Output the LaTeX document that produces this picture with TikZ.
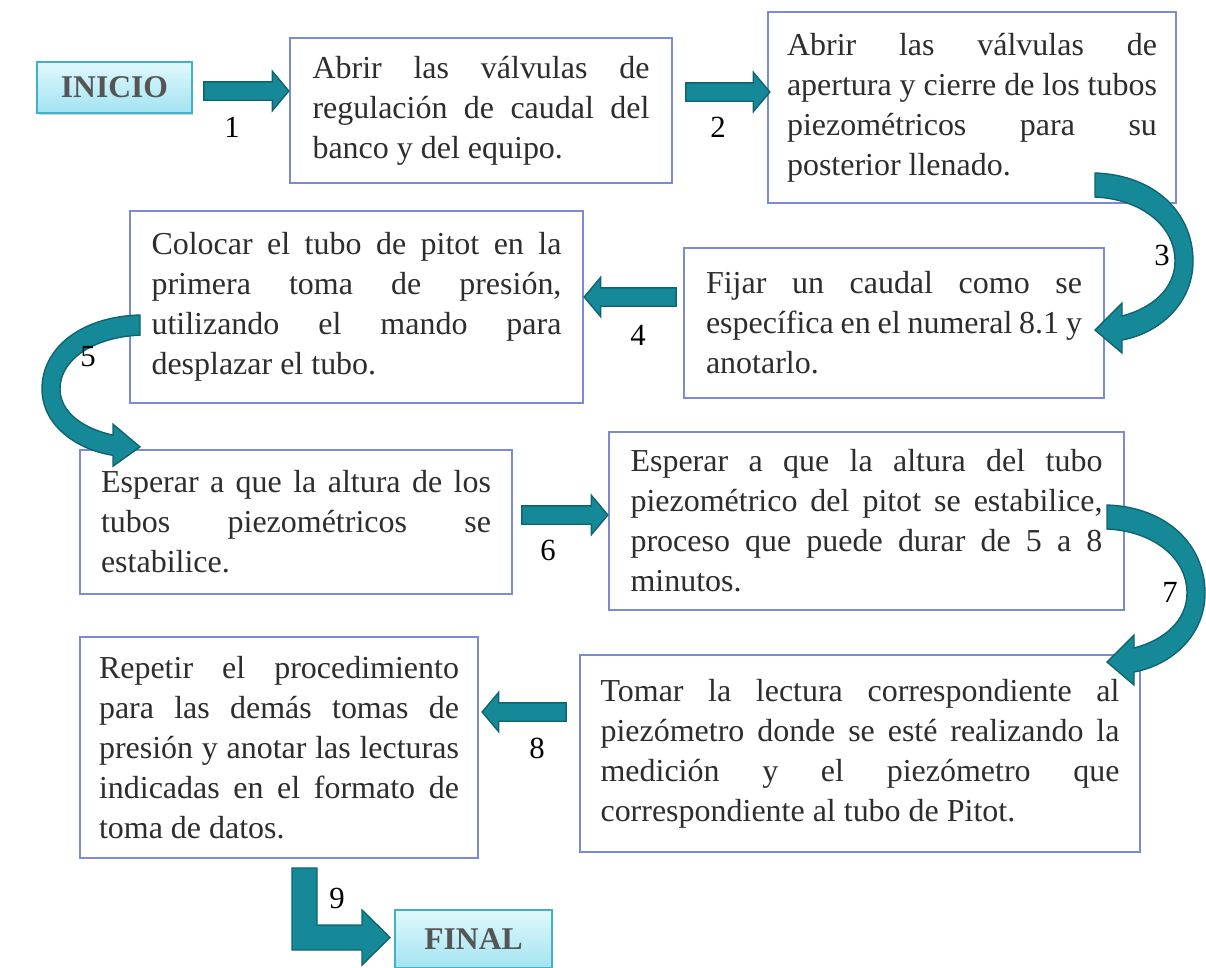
\documentclass[tikz,border=0pt]{standalone}
\usepackage{fontspec}
\setmainfont{Liberation Serif}
\usetikzlibrary{shapes.arrows,shadows}
\definecolor{boxline}{RGB}{124,138,212}
\definecolor{arrowfill}{RGB}{22,137,153}
\definecolor{arrowline}{RGB}{14,100,112}
\definecolor{termline}{RGB}{64,178,198}
\definecolor{termtop}{RGB}{224,249,253}
\definecolor{termbot}{RGB}{162,227,241}
\definecolor{bodytext}{RGB}{45,45,45}
\definecolor{termtext}{RGB}{85,85,85}

\begin{document}
\begin{tikzpicture}[x=0.02cm,y=-0.02cm]
\tikzset{box/.style = {draw=boxline, line width=1.1pt, fill=white, text=bodytext,
    align=justify, inner sep=0pt, font=\fontsize{18.2}{22.8}\selectfont},
  termbox/.style = {draw=termline, line width=1.1pt, top color=termtop, bottom color=termbot,
    text=termtext, font=\fontsize{18}{22}\selectfont\bfseries,
    drop shadow={shadow xshift=0.03cm, shadow yshift=-0.05cm, opacity=0.35}},
  stepnum/.style = {font=\fontsize{17.5}{20}\selectfont},
  blockarrow/.style = {single arrow, draw=arrowline, fill=arrowfill, line width=0.8pt,
    inner sep=0.17cm, single arrow head extend=0.21cm, minimum width=0.78cm,
    single arrow tip angle=100},
  bendarrow/.pic = {\filldraw[fill=arrowfill, draw=arrowline, line width=0.8pt]
    (0,0) .. controls (60,2) and (98,40) .. (98,88)
    .. controls (98,130) and (65,160) .. (27,167) -- (27,180) -- (0,157)
    -- (27,130) -- (27,143) .. controls (58,135) and (80,115) .. (80,88)
    .. controls (80,52) and (45,26) .. (0,24) -- cycle;}}
\useasboundingbox (0,0) rectangle (1206,967);

% steps
\node[termbox, minimum width=3.1cm, minimum height=1.02cm] (inicio) at (114.5,87.5) {INICIO};
\node[box, text width=6.74cm, minimum width=7.64cm, minimum height=2.9cm] (A) at (481,110.5)
  {Abrir las válvulas de\linebreak regulación de caudal del\linebreak banco y del equipo.};
\node[box, text width=7.4cm, minimum width=8.16cm, minimum height=3.82cm] (B) at (972,107.5)
  {Abrir las válvulas de\linebreak apertura y cierre de los tubos\linebreak piezométricos para su\linebreak posterior llenado.};
\node[box, text width=7.52cm, minimum width=8.4cm, minimum height=3.0cm] (C) at (894,323)
  {Fijar un caudal como se\linebreak específica en el numeral 8.1 y\linebreak anotarlo.};
\node[box, text width=8.2cm, minimum width=9.06cm, minimum height=3.84cm] (D) at (356.5,307)
  {Colocar el tubo de pitot en la\linebreak primera toma de presión,\linebreak utilizando el mando para\linebreak desplazar el tubo.};
\node[box, text width=7.8cm, minimum width=8.64cm, minimum height=2.88cm] (E) at (296,522)
  {Esperar a que la altura de los\linebreak tubos piezométricos se\linebreak estabilice.};
\node[box, text width=9.44cm, minimum width=10.3cm, minimum height=3.56cm] (F) at (866.5,521)
  {Esperar a que la altura del tubo\linebreak piezométrico del pitot se estabilice,\linebreak proceso que puede durar de 5 a 8\linebreak minutos.};
\node[box, text width=10.38cm, minimum width=11.2cm, minimum height=3.94cm] (G) at (860,753.5)
  {Tomar la lectura correspondiente al\linebreak piezómetro donde se esté realizando la\linebreak medición y el piezómetro que\linebreak correspondiente al tubo de Pitot.};
\node[box, text width=7.2cm, minimum width=7.96cm, minimum height=4.42cm] (H) at (279,747.5)
  {Repetir el procedimiento\linebreak para las demás tomas de\linebreak presión y anotar las lecturas\linebreak indicadas en el formato de\linebreak toma de datos.};
\node[termbox, minimum width=3.14cm, minimum height=1.16cm] (final) at (473.5,939) {FINAL};

% arrows
\node[blockarrow, minimum height=1.7cm] (a1) at (242.5,91) {};
\node[blockarrow, minimum height=1.68cm] (a2) at (724,92) {};
\pic at (1095,173) {bendarrow};
\node[blockarrow, minimum height=1.84cm, shape border rotate=180] (a4) at (634,297) {};
\pic[xscale=-1, yscale=0.84] at (140,315) {bendarrow};
\node[blockarrow, minimum height=1.72cm] (a6) at (561,515) {};
\pic at (1107,505) {bendarrow};
\node[blockarrow, minimum height=1.68cm, shape border rotate=180] (a8) at (528,712) {};
\filldraw[fill=arrowfill, draw=arrowline, line width=0.8pt] (292,868) -- (317,868) -- (317,925)
  -- (362,925) -- (362,910) -- (390,937.5) -- (362,965) -- (362,950) -- (292,950) -- cycle;

% numbers
\node[stepnum] (n1) at (232,127) {1};
\node[stepnum] (n2) at (718,127) {2};
\node[stepnum] (n3) at (1162,255) {3};
\node[stepnum] (n4) at (638,335) {4};
\node[stepnum] (n5) at (88,357) {5};
\node[stepnum] (n6) at (548,550) {6};
\node[stepnum] (n7) at (1170,592) {7};
\node[stepnum] (n8) at (537,748) {8};
\node[stepnum] (n9) at (337,898) {9};

\end{tikzpicture}
\end{document}
